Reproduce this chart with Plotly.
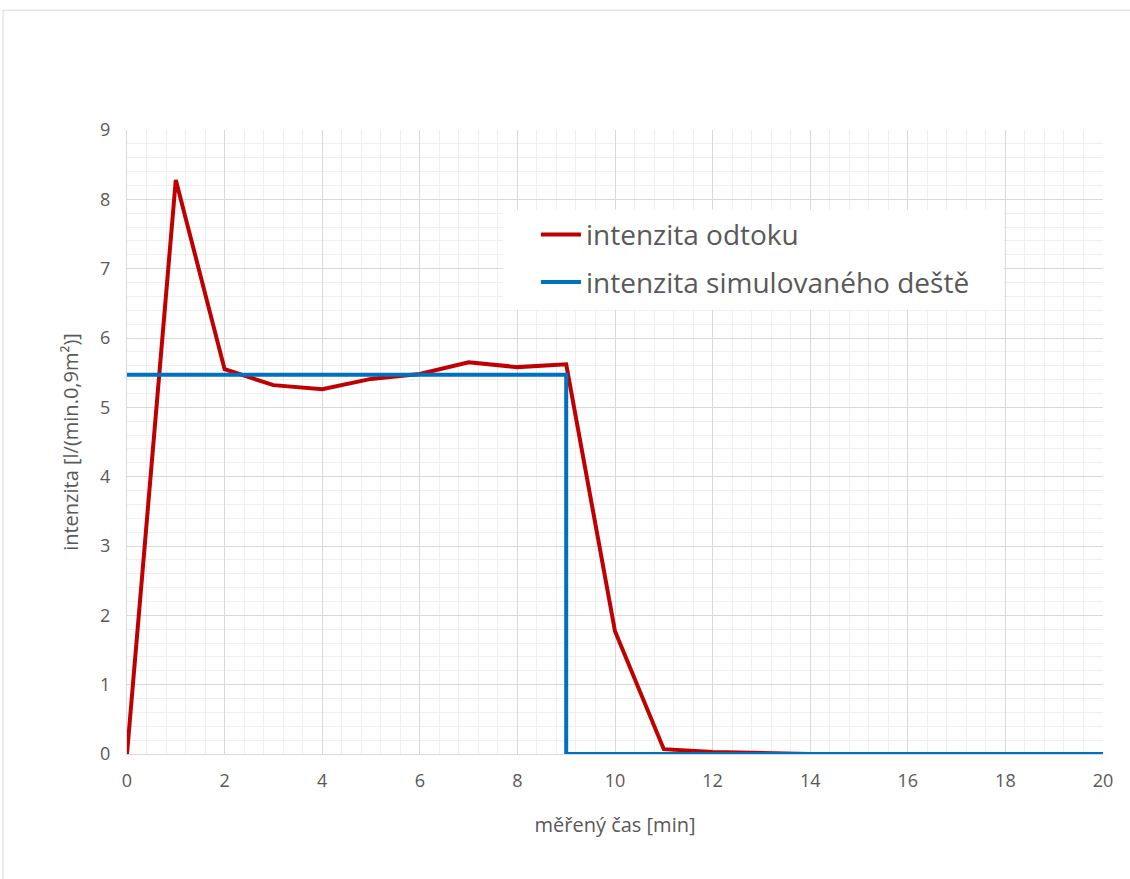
import plotly.graph_objects as go

# naměřená data
cas = [0, 1, 2, 3, 4, 5, 6, 7, 8, 9, 10, 11, 12, 13, 14, 15, 16, 17, 18, 19, 20]
odtok = [0, 8.28, 5.55, 5.32, 5.26, 5.41, 5.48, 5.65, 5.58, 5.62, 1.77, 0.07,
         0.03, 0.01, 0, 0, 0, 0, 0, 0, 0]

# simulovaný déšť (schod)
cas_dest = [0, 9, 9, 20]
dest = [5.47, 5.47, 0, 0]

fig = go.Figure()

fig.add_trace(go.Scatter(
    x=cas, y=odtok, mode='lines', name='intenzita odtoku', legendgroup='a',
    line=dict(color='#c00000', width=4)
))
fig.add_trace(go.Scatter(
    x=cas_dest, y=dest, mode='lines', name='intenzita simulovaného deště', legendgroup='b',
    line=dict(color='#0070c0', width=4)
))

fig.update_layout(
    width=1130, height=879,
    margin=dict(l=127, r=27, t=130, b=125),
    paper_bgcolor='white', plot_bgcolor='white',
    font=dict(family='Open Sans, Liberation Sans, sans-serif', size=18, color='#595959'),
    legend=dict(
        x=0.419, y=0.872, xanchor='left', yanchor='top',
        bgcolor='rgba(0,0,0,0)', font=dict(size=28, color='#595959'),
        traceorder='grouped', tracegroupgap=8, itemwidth=40,
    ),
    xaxis=dict(
        range=[0, 20], dtick=2, tick0=0,
        showgrid=True, gridcolor='#d9d9d9', gridwidth=1,
        minor=dict(dtick=0.4, tick0=0, showgrid=True, gridcolor='#efefef', gridwidth=1),
        zeroline=False, showline=True, linecolor='#d9d9d9', linewidth=1,
        title=dict(text='měřený čas [min]', font=dict(size=20, color='#595959'), standoff=27),
        ticks='', ticklabelstandoff=10,
    ),
    yaxis=dict(
        range=[0, 9], dtick=1, tick0=0,
        showgrid=True, gridcolor='#d9d9d9', gridwidth=1,
        minor=dict(dtick=0.2, tick0=0, showgrid=True, gridcolor='#efefef', gridwidth=1),
        zeroline=False, showline=True, linecolor='#d9d9d9', linewidth=1,
        title=dict(text='intenzita [l/(min.0,9m²)]', font=dict(size=20, color='#595959'), standoff=16),
        ticks='', ticklabelstandoff=12,
    ),
    shapes=[
        # rámeček grafu
        dict(type='rect', xref='paper', yref='paper',
             x0=-0.127, x1=1.2, y0=-0.4, y1=1.192,
             line=dict(color='#d9d9d9', width=1), fillcolor='rgba(0,0,0,0)', layer='below'),
        # bílé pozadí legendy
        dict(type='rect', xref='paper', yref='paper',
             x0=0.385, x1=0.898, y0=0.712, y1=0.872,
             line=dict(width=0), fillcolor='white', layer='above'),
    ],
)

# bez okraje stránky, aby graf seděl od levého horního rohu
fig.write_html("out.html", config={'displayModeBar': False},
               post_script="document.body.style.margin='0';")
